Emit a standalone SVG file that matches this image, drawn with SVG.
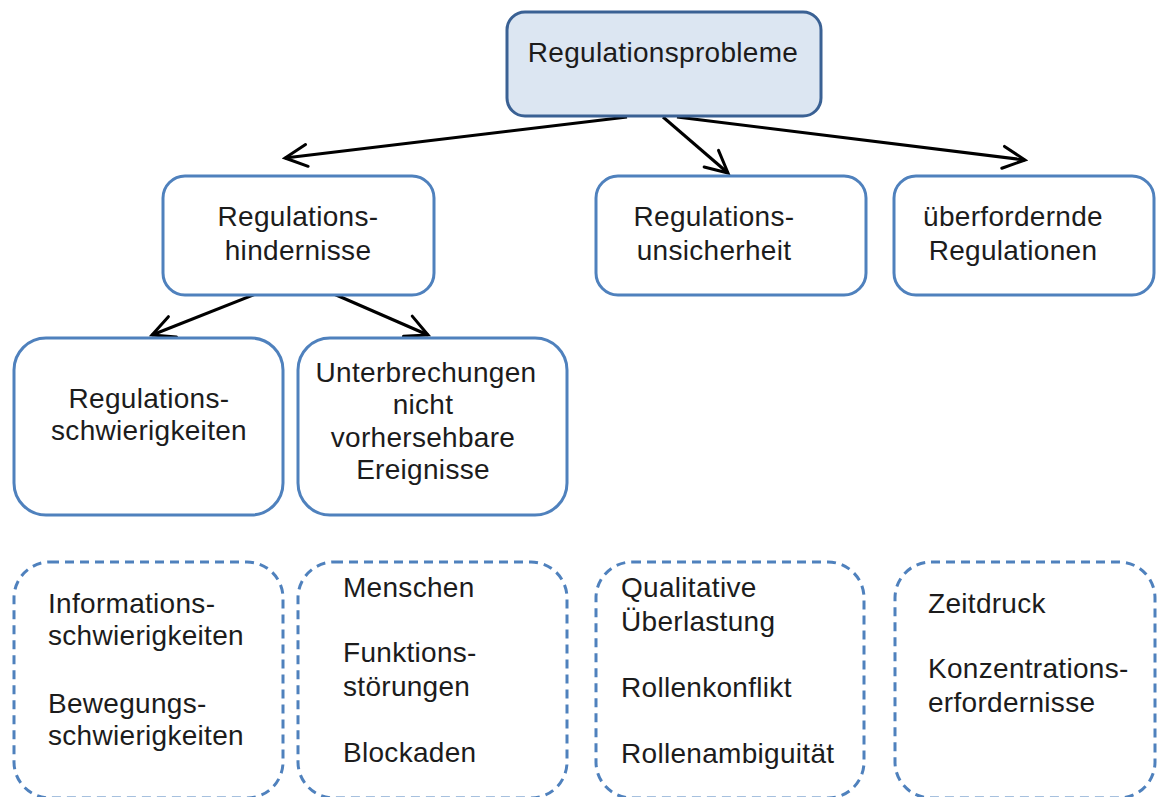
<svg xmlns="http://www.w3.org/2000/svg" width="1157" height="797" viewBox="0 0 1157 797">
  <defs>
    <style>
      .root { fill: #dce6f2; stroke: #3a6194; stroke-width: 3; }
      .box { fill: #ffffff; stroke: #4f81bd; stroke-width: 3; }
      .dash { fill: #ffffff; stroke: #4f81bd; stroke-width: 3; stroke-dasharray: 9 6; }
      .edge { fill: none; stroke: #000000; stroke-width: 3; }
      text { font-family: "Liberation Sans", Arial, sans-serif; font-size: 28px; letter-spacing: 0.3px; fill: #1c1c1c; }
      .c { text-anchor: middle; }
    </style>
    <marker id="arrow" markerUnits="userSpaceOnUse" viewBox="0 0 28 26" refX="25" refY="13" markerWidth="28" markerHeight="26" orient="auto">
      <path d="M3,2 L25,13 L3,24" fill="none" stroke="#000" stroke-width="3" stroke-linecap="round" stroke-linejoin="miter"/>
    </marker>
  </defs>

  <rect width="1157" height="797" fill="#ffffff"/>

  <!-- connectors -->
  <g id="connectors">
    <line class="edge" x1="627" y1="117" x2="285" y2="158" marker-end="url(#arrow)"/>
    <line class="edge" x1="663" y1="117" x2="728" y2="173" marker-end="url(#arrow)"/>
    <line class="edge" x1="677" y1="117" x2="1025" y2="160" marker-end="url(#arrow)"/>
    <line class="edge" x1="263" y1="291" x2="152" y2="335" marker-end="url(#arrow)"/>
    <line class="edge" x1="327" y1="291" x2="428" y2="335" marker-end="url(#arrow)"/>
  </g>

  <!-- top node -->
  <g id="regulationsprobleme">
    <rect class="root" x="507" y="12" width="314" height="104" rx="18"/>
    <text class="c" x="663" y="62">Regulationsprobleme</text>
  </g>

  <!-- second level -->
  <g id="regulationshindernisse">
    <rect class="box" x="163" y="176" width="271" height="119" rx="22"/>
    <text class="c" x="298" y="226">Regulations-</text>
    <text class="c" x="298" y="260">hindernisse</text>
  </g>
  <g id="regulationsunsicherheit">
    <rect class="box" x="596" y="176" width="270" height="119" rx="22"/>
    <text class="c" x="714" y="226">Regulations-</text>
    <text class="c" x="714" y="260">unsicherheit</text>
  </g>
  <g id="ueberfordernde-regulationen">
    <rect class="box" x="894" y="176" width="260" height="119" rx="22"/>
    <text class="c" x="1013" y="226">überfordernde</text>
    <text class="c" x="1013" y="260">Regulationen</text>
  </g>

  <!-- third level -->
  <g id="regulationsschwierigkeiten">
    <rect class="box" x="14" y="338" width="269" height="177" rx="32"/>
    <text class="c" x="149" y="408">Regulations-</text>
    <text class="c" x="149" y="440">schwierigkeiten</text>
  </g>
  <g id="unterbrechungen">
    <rect class="box" x="298" y="338" width="269" height="177" rx="32"/>
    <text class="c" x="426" y="382">Unterbrechungen</text>
    <text class="c" x="423" y="414">nicht</text>
    <text class="c" x="423" y="447">vorhersehbare</text>
    <text class="c" x="423" y="479">Ereignisse</text>
  </g>

  <!-- example lists -->
  <g id="beispiele-schwierigkeiten">
    <rect class="dash" x="14" y="562" width="269" height="236" rx="36"/>
    <text x="48" y="613">Informations-</text>
    <text x="48" y="645">schwierigkeiten</text>
    <text x="48" y="713">Bewegungs-</text>
    <text x="48" y="745">schwierigkeiten</text>
  </g>
  <g id="beispiele-unterbrechungen">
    <rect class="dash" x="298" y="562" width="269" height="236" rx="36"/>
    <text x="343" y="597">Menschen</text>
    <text x="343" y="662">Funktions-</text>
    <text x="343" y="696">störungen</text>
    <text x="343" y="762">Blockaden</text>
  </g>
  <g id="beispiele-unsicherheit">
    <rect class="dash" x="596" y="562" width="268" height="236" rx="36"/>
    <text x="621" y="597">Qualitative</text>
    <text x="621" y="631">Überlastung</text>
    <text x="621" y="697">Rollenkonflikt</text>
    <text x="621" y="763">Rollenambiguität</text>
  </g>
  <g id="beispiele-ueberforderung">
    <rect class="dash" x="895" y="562" width="260" height="236" rx="36"/>
    <text x="928" y="613">Zeitdruck</text>
    <text x="928" y="678">Konzentrations-</text>
    <text x="928" y="712">erfordernisse</text>
  </g>
</svg>
